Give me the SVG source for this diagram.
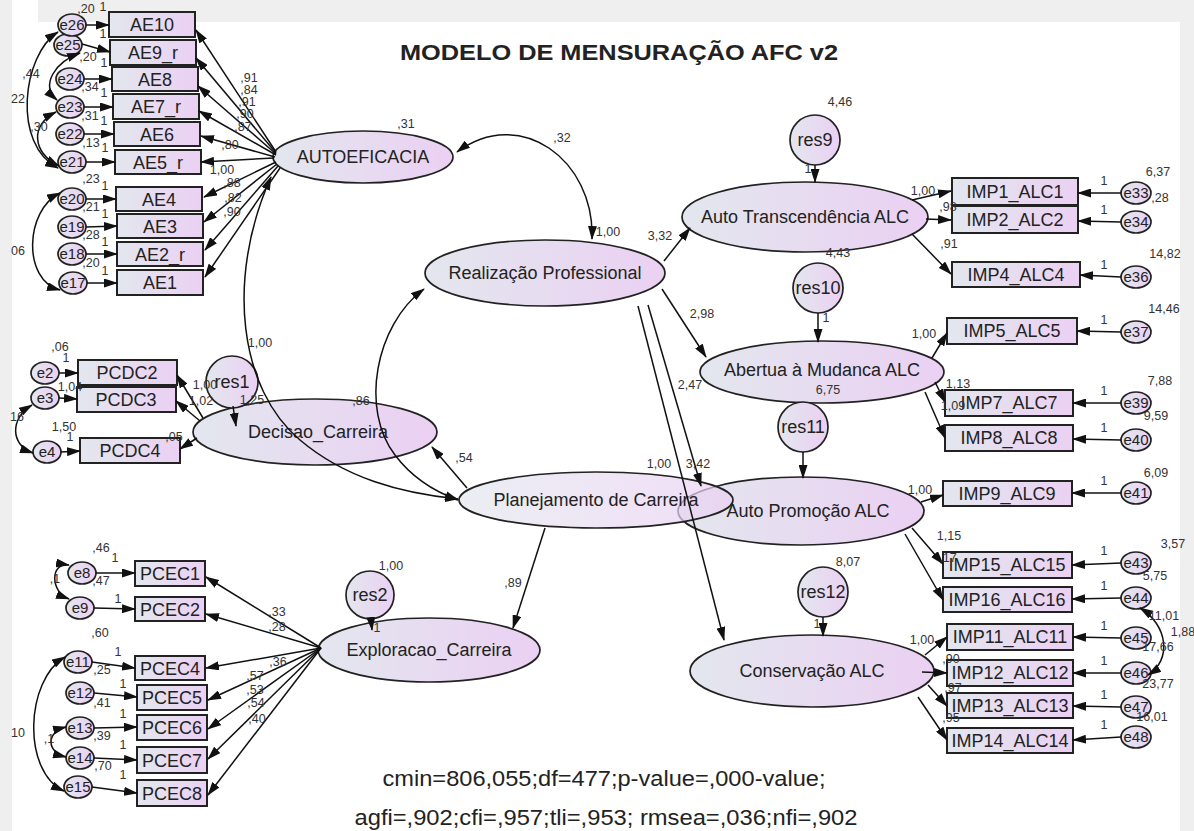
<svg xmlns="http://www.w3.org/2000/svg" width="1194" height="831" viewBox="0 0 1194 831">
<defs>
  <linearGradient id="g" x1="0" y1="0" x2="1" y2="0">
    <stop offset="0" stop-color="#e3e7ee"/>
    <stop offset="1" stop-color="#ebd0f3"/>
  </linearGradient>
  <marker id="ah" viewBox="0 0 14 9" refX="13" refY="4.5" markerWidth="14" markerHeight="9" markerUnits="userSpaceOnUse" orient="auto-start-reverse">
    <path d="M0,0 L14,4.5 L0,9 z" fill="#111"/>
  </marker>
</defs>
<style>
  .nd ellipse,.nd rect,.nd circle{fill:url(#g);stroke:#222;stroke-width:1.7}
  .nd rect{stroke-width:2}
  .nd text{font-family:"Liberation Sans",Arial,sans-serif;font-size:18px;fill:#222;text-anchor:middle}
  .nd.e text{font-size:15px}
  .nd.ov ellipse{fill-opacity:0.7}
  .cn path{fill:none;stroke:#111;stroke-width:1.5;marker-end:url(#ah)}
  .cn path.d{marker-start:url(#ah)}
  .lb text{font-family:"Liberation Sans",Arial,sans-serif;font-size:12.5px;fill:#333;text-anchor:middle}
  .hd{font-family:"Liberation Sans",Arial,sans-serif;fill:#222;text-anchor:middle}
</style>

<!-- canvas -->
<rect width="1194" height="831" fill="#ffffff"/>
<rect x="0" y="0" width="12" height="831" fill="#efefef"/>
<rect x="38" y="0" width="1156" height="22" fill="#efefef"/>
<rect x="1180" y="0" width="14" height="831" fill="#efefef"/>

<text class="hd" x="619" y="60" font-size="22" font-weight="bold" textLength="438" lengthAdjust="spacingAndGlyphs">MODELO DE MENSURAÇÃO AFC v2</text>

<!-- AUTOEFICACIA indicators -->
<g id="AE10" class="nd"><rect x="109" y="12" width="86" height="25"/><text x="152" y="31">AE10</text></g>
<g id="AE9_r" class="nd"><rect x="110" y="40" width="86" height="25"/><text x="153" y="59">AE9_r</text></g>
<g id="AE8" class="nd"><rect x="112" y="67" width="86" height="24"/><text x="155" y="86">AE8</text></g>
<g id="AE7_r" class="nd"><rect x="113" y="94" width="86" height="25"/><text x="156" y="113">AE7_r</text></g>
<g id="AE6" class="nd"><rect x="114" y="122" width="86" height="24"/><text x="157" y="141">AE6</text></g>
<g id="AE5_r" class="nd"><rect x="115" y="150" width="86" height="24"/><text x="158" y="169">AE5_r</text></g>
<g id="AE4" class="nd"><rect x="116" y="187" width="86" height="24"/><text x="159" y="206">AE4</text></g>
<g id="AE3" class="nd"><rect x="117" y="214" width="86" height="24"/><text x="160" y="233">AE3</text></g>
<g id="AE2_r" class="nd"><rect x="117" y="242" width="86" height="24"/><text x="160" y="261">AE2_r</text></g>
<g id="AE1" class="nd"><rect x="117" y="270" width="86" height="25"/><text x="160" y="289">AE1</text></g>

<g id="e25" class="nd e"><ellipse cx="68" cy="45" rx="14" ry="11"/><text x="68" y="50">e25</text></g>
<g id="e26" class="nd e"><ellipse cx="72" cy="25" rx="14" ry="11"/><text x="72" y="30">e26</text></g>
<g id="e24" class="nd e"><ellipse cx="70" cy="79" rx="14" ry="11"/><text x="70" y="84">e24</text></g>
<g id="e23" class="nd e"><ellipse cx="70" cy="107" rx="14" ry="11"/><text x="70" y="112">e23</text></g>
<g id="e22" class="nd e"><ellipse cx="70" cy="134" rx="14" ry="11"/><text x="70" y="139">e22</text></g>
<g id="e21" class="nd e"><ellipse cx="72" cy="162" rx="14" ry="11"/><text x="72" y="167">e21</text></g>
<g id="e20" class="nd e"><ellipse cx="72" cy="199" rx="14" ry="11"/><text x="72" y="204">e20</text></g>
<g id="e19" class="nd e"><ellipse cx="72" cy="227" rx="14" ry="11"/><text x="72" y="232">e19</text></g>
<g id="e18" class="nd e"><ellipse cx="72" cy="254" rx="14" ry="11"/><text x="72" y="259">e18</text></g>
<g id="e17" class="nd e"><ellipse cx="73" cy="283" rx="14" ry="11"/><text x="73" y="288">e17</text></g>

<!-- Decisao_Carreira indicators -->
<g id="PCDC2" class="nd"><rect x="78" y="360" width="99" height="25"/><text x="127" y="379">PCDC2</text></g>
<g id="PCDC3" class="nd"><rect x="77" y="387" width="99" height="25"/><text x="126" y="406">PCDC3</text></g>
<g id="PCDC4" class="nd"><rect x="80" y="438" width="100" height="25"/><text x="130" y="457">PCDC4</text></g>
<g id="e2" class="nd e"><ellipse cx="45" cy="373" rx="14" ry="11"/><text x="45" y="378">e2</text></g>
<g id="e3" class="nd e"><ellipse cx="45" cy="398" rx="14" ry="11"/><text x="45" y="403">e3</text></g>
<g id="e4" class="nd e"><ellipse cx="47" cy="452" rx="14" ry="11"/><text x="47" y="457">e4</text></g>

<!-- Exploracao_Carreira indicators -->
<g id="PCEC1" class="nd"><rect x="135" y="561" width="70" height="25"/><text x="170" y="580">PCEC1</text></g>
<g id="PCEC2" class="nd"><rect x="135" y="597" width="70" height="24"/><text x="170" y="616">PCEC2</text></g>
<g id="PCEC4" class="nd"><rect x="135" y="656" width="70" height="24"/><text x="170" y="675">PCEC4</text></g>
<g id="PCEC5" class="nd"><rect x="137" y="685" width="70" height="25"/><text x="172" y="704">PCEC5</text></g>
<g id="PCEC6" class="nd"><rect x="137" y="715" width="70" height="25"/><text x="172" y="734">PCEC6</text></g>
<g id="PCEC7" class="nd"><rect x="137" y="747" width="70" height="26"/><text x="172" y="767">PCEC7</text></g>
<g id="PCEC8" class="nd"><rect x="137" y="780" width="70" height="26"/><text x="172" y="800">PCEC8</text></g>
<g id="e8" class="nd e"><ellipse cx="82" cy="573" rx="14" ry="11"/><text x="82" y="578">e8</text></g>
<g id="e9" class="nd e"><ellipse cx="80" cy="608" rx="14" ry="11"/><text x="80" y="613">e9</text></g>
<g id="e11" class="nd e"><ellipse cx="78" cy="662" rx="14" ry="11"/><text x="78" y="667">e11</text></g>
<g id="e12" class="nd e"><ellipse cx="80" cy="693" rx="14" ry="11"/><text x="80" y="698">e12</text></g>
<g id="e13" class="nd e"><ellipse cx="80" cy="728" rx="14" ry="11"/><text x="80" y="733">e13</text></g>
<g id="e14" class="nd e"><ellipse cx="80" cy="758" rx="14" ry="11"/><text x="80" y="763">e14</text></g>
<g id="e15" class="nd e"><ellipse cx="78" cy="787" rx="14" ry="11"/><text x="78" y="792">e15</text></g>

<!-- latent variables, left and centre -->
<g id="AUTOEFICACIA" class="nd"><ellipse cx="363" cy="157" rx="90" ry="26"/><text x="363" y="163">AUTOEFICACIA</text></g>
<g id="Decisao_Carreira" class="nd"><ellipse cx="315" cy="432" rx="122" ry="33"/><text x="318" y="438">Decisao_Carreira</text></g>
<g id="res1" class="nd"><circle cx="232" cy="382" r="26"/><text x="232" y="388">res1</text></g>
<g id="Exploracao_Carreira" class="nd"><ellipse cx="429" cy="650" rx="111" ry="32"/><text x="429" y="656">Exploracao_Carreira</text></g>
<g id="res2" class="nd"><circle cx="370" cy="595" r="24"/><text x="370" y="601">res2</text></g>
<g id="Realizacao_Professional" class="nd"><ellipse cx="545" cy="273" rx="120" ry="33"/><text x="545" y="279">Realização Professional</text></g>

<!-- latent variables, right -->
<g id="res9" class="nd"><circle cx="815" cy="140" r="25"/><text x="815" y="146">res9</text></g>
<g id="Auto_Transcendencia_ALC" class="nd"><ellipse cx="805" cy="217" rx="123" ry="35"/><text x="805" y="223">Auto Transcendência ALC</text></g>
<g id="res10" class="nd"><circle cx="818" cy="288" r="25"/><text x="818" y="294">res10</text></g>
<g id="Abertua_Mudanca_ALC" class="nd"><ellipse cx="822" cy="372" rx="122" ry="31"/><text x="822" y="376">Abertua à Mudanca ALC</text></g>
<g id="res11" class="nd"><circle cx="803" cy="427" r="25"/><text x="803" y="433">res11</text></g>
<g id="Auto_Promocao_ALC" class="nd"><ellipse cx="801" cy="511" rx="123" ry="34"/><text x="808" y="517">Auto Promoção ALC</text></g>
<g id="Planejamento_de_Carreira" class="nd ov"><ellipse cx="596" cy="500" rx="137" ry="28"/><text x="596" y="506">Planejamento de Carreira</text></g>
<g id="res12" class="nd"><circle cx="823" cy="592" r="25"/><text x="823" y="598">res12</text></g>
<g id="Conservacao_ALC" class="nd"><ellipse cx="812" cy="671" rx="122" ry="36"/><text x="812" y="677">Conservação ALC</text></g>

<!-- ALC indicators -->
<g id="IMP1_ALC1" class="nd"><rect x="952" y="178" width="126" height="27"/><text x="1015" y="198">IMP1_ALC1</text></g>
<g id="IMP2_ALC2" class="nd"><rect x="952" y="206" width="126" height="27"/><text x="1015" y="226">IMP2_ALC2</text></g>
<g id="IMP4_ALC4" class="nd"><rect x="952" y="262" width="128" height="25"/><text x="1016" y="281">IMP4_ALC4</text></g>
<g id="IMP5_ALC5" class="nd"><rect x="947" y="318" width="130" height="26"/><text x="1012" y="337">IMP5_ALC5</text></g>
<g id="IMP7_ALC7" class="nd"><rect x="945" y="390" width="128" height="26"/><text x="1009" y="409">IMP7_ALC7</text></g>
<g id="IMP8_ALC8" class="nd"><rect x="945" y="425" width="128" height="26"/><text x="1009" y="444">IMP8_ALC8</text></g>
<g id="IMP9_ALC9" class="nd"><rect x="943" y="481" width="129" height="25"/><text x="1007" y="500">IMP9_ALC9</text></g>
<g id="IMP15_ALC15" class="nd"><rect x="943" y="552" width="129" height="26"/><text x="1007" y="571">IMP15_ALC15</text></g>
<g id="IMP16_ALC16" class="nd"><rect x="943" y="587" width="129" height="25"/><text x="1007" y="606">IMP16_ALC16</text></g>
<g id="IMP11_ALC11" class="nd"><rect x="947" y="624" width="126" height="26"/><text x="1010" y="643">IMP11_ALC11</text></g>
<g id="IMP12_ALC12" class="nd"><rect x="947" y="660" width="126" height="26"/><text x="1010" y="679">IMP12_ALC12</text></g>
<g id="IMP13_ALC13" class="nd"><rect x="947" y="693" width="126" height="25"/><text x="1010" y="712">IMP13_ALC13</text></g>
<g id="IMP14_ALC14" class="nd"><rect x="947" y="728" width="126" height="25"/><text x="1010" y="747">IMP14_ALC14</text></g>

<g id="e33" class="nd e"><ellipse cx="1136" cy="193" rx="15" ry="11"/><text x="1136" y="198">e33</text></g>
<g id="e34" class="nd e"><ellipse cx="1136" cy="222" rx="15" ry="11"/><text x="1136" y="227">e34</text></g>
<g id="e36" class="nd e"><ellipse cx="1136" cy="277" rx="15" ry="11"/><text x="1136" y="282">e36</text></g>
<g id="e37" class="nd e"><ellipse cx="1136" cy="332" rx="15" ry="11"/><text x="1136" y="337">e37</text></g>
<g id="e39" class="nd e"><ellipse cx="1136" cy="403" rx="15" ry="11"/><text x="1136" y="408">e39</text></g>
<g id="e40" class="nd e"><ellipse cx="1136" cy="440" rx="15" ry="11"/><text x="1136" y="445">e40</text></g>
<g id="e41" class="nd e"><ellipse cx="1136" cy="493" rx="15" ry="11"/><text x="1136" y="498">e41</text></g>
<g id="e43" class="nd e"><ellipse cx="1136" cy="563" rx="15" ry="11"/><text x="1136" y="568">e43</text></g>
<g id="e44" class="nd e"><ellipse cx="1136" cy="598" rx="15" ry="11"/><text x="1136" y="603">e44</text></g>
<g id="e45" class="nd e"><ellipse cx="1136" cy="638" rx="15" ry="11"/><text x="1136" y="643">e45</text></g>
<g id="e46" class="nd e"><ellipse cx="1136" cy="673" rx="15" ry="11"/><text x="1136" y="678">e46</text></g>
<g id="e47" class="nd e"><ellipse cx="1136" cy="707" rx="15" ry="11"/><text x="1136" y="712">e47</text></g>
<g id="e48" class="nd e"><ellipse cx="1136" cy="737" rx="15" ry="11"/><text x="1136" y="742">e48</text></g>

<!-- paths and covariances -->
<g id="connectors" class="cn">
  <!-- errors to AE items -->
  <path d="M86,25 L109,25"/>
  <path d="M82,44 L110,52"/>
  <path d="M84,79 L112,79"/>
  <path d="M84,107 L113,107"/>
  <path d="M84,134 L114,134"/>
  <path d="M86,162 L115,162"/>
  <path d="M86,199 L116,199"/>
  <path d="M86,227 L117,226"/>
  <path d="M86,254 L117,254"/>
  <path d="M87,283 L117,283"/>
  <!-- AUTOEFICACIA loadings -->
  <path d="M276,152 L196,30"/>
  <path d="M276,153 L196,58"/>
  <path d="M276,154 L198,86"/>
  <path d="M276,155 L199,111"/>
  <path d="M275,157 L201,136"/>
  <path d="M274,158 L201,162"/>
  <path d="M276,162 L204,197"/>
  <path d="M277,164 L204,222"/>
  <path d="M278,166 L205,250"/>
  <path d="M280,168 L205,277"/>
  <!-- AE error covariances -->
  <path class="d" d="M58,32 C 22,55 12,145 58,168"/>
  <path class="d" d="M80,53 C 55,62 40,85 57,100"/>
  <path class="d" d="M56,112 C 30,125 32,152 59,166"/>
  <path class="d" d="M60,193 C 25,210 22,280 60,290"/>
  <!-- Decisao_Carreira block -->
  <path d="M59,373 L78,373"/>
  <path d="M59,398 L77,399"/>
  <path d="M61,452 L80,451"/>
  <path d="M203,418 L177,375"/>
  <path d="M200,421 L176,401"/>
  <path d="M197,438 L180,449"/>
  <path d="M233,406 L236,426"/>
  <path class="d" d="M32,405 C 10,418 10,445 33,453"/>
  <!-- Exploracao_Carreira block -->
  <path d="M96,573 L135,573"/>
  <path d="M94,608 L135,609"/>
  <path d="M92,662 L135,668"/>
  <path d="M94,693 L137,697"/>
  <path d="M94,728 L137,727"/>
  <path d="M94,758 L137,760"/>
  <path d="M92,787 L137,793"/>
  <path d="M321,648 L206,577"/>
  <path d="M321,648 L206,614"/>
  <path d="M321,648 L206,668"/>
  <path d="M321,648 L208,700"/>
  <path d="M321,648 L208,729"/>
  <path d="M321,648 L208,759"/>
  <path d="M321,648 L208,795"/>
  <path class="d" d="M69,565 C 50,562 50,592 69,599"/>
  <path class="d" d="M66,727 C 46,732 46,752 66,757"/>
  <path class="d" d="M65,657 C 25,680 22,772 64,791"/>
  <path d="M371,619 L372,630"/>
  <!-- structural part -->
  <path d="M467,488 L432,447"/>
  <path d="M545,528 L513,628"/>
  <path class="d" d="M457,152 C 520,105 595,160 592,239"/>
  <path class="d" d="M271,177 C 225,280 240,390 300,440 C 345,478 400,493 458,499"/>
  <path class="d" d="M424,289 C 375,325 360,410 395,455 C 410,475 430,490 458,500"/>
  <path d="M664,261 L690,228"/>
  <path d="M662,289 L706,357"/>
  <path d="M648,305 L701,486"/>
  <path d="M638,306 L724,640"/>
  <path d="M815,165 L815,182"/>
  <path d="M818,313 L818,342"/>
  <path d="M803,452 L803,478"/>
  <path d="M823,617 L823,636"/>
  <!-- ALC loadings -->
  <path d="M912,200 L951,191"/>
  <path d="M926,219 L951,220"/>
  <path d="M912,234 L951,274"/>
  <path d="M932,358 L947,333"/>
  <path d="M935,382 L945,402"/>
  <path d="M925,392 L945,438"/>
  <path d="M921,502 L943,495"/>
  <path d="M912,528 L943,564"/>
  <path d="M905,534 L943,600"/>
  <path d="M925,655 L947,637"/>
  <path d="M922,672 L947,673"/>
  <path d="M928,685 L947,706"/>
  <path d="M918,697 L947,740"/>
  <!-- ALC errors -->
  <path d="M1121,193 L1078,193"/>
  <path d="M1121,222 L1078,221"/>
  <path d="M1121,277 L1080,275"/>
  <path d="M1121,332 L1077,331"/>
  <path d="M1121,403 L1073,403"/>
  <path d="M1121,440 L1073,439"/>
  <path d="M1121,493 L1072,493"/>
  <path d="M1121,563 L1072,565"/>
  <path d="M1121,598 L1072,599"/>
  <path d="M1121,638 L1073,637"/>
  <path d="M1121,673 L1073,673"/>
  <path d="M1121,707 L1073,706"/>
  <path d="M1121,737 L1073,740"/>
  <path class="d" d="M1140,608 C 1168,625 1172,660 1148,675"/>
</g>

<!-- estimates -->
<g id="estimates" class="lb">
  <!-- AE errors -->
  <text x="86" y="13">,20</text><text x="103" y="11">1</text>
  <text x="103" y="38">1</text>
  <text x="88" y="61">,20</text><text x="104" y="67">1</text>
  <text x="90" y="91">,34</text><text x="104" y="97">1</text>
  <text x="90" y="120">,31</text><text x="104" y="125">1</text>
  <text x="91" y="147">,13</text><text x="105" y="152">1</text>
  <text x="91" y="183">,23</text><text x="105" y="190">1</text>
  <text x="91" y="211">,21</text><text x="105" y="218">1</text>
  <text x="91" y="239">,28</text><text x="105" y="246">1</text>
  <text x="91" y="267">,20</text><text x="105" y="275">1</text>
  <text x="31" y="78">,44</text>
  <text x="18" y="103">22</text>
  <text x="39" y="131">,30</text>
  <text x="18" y="255">06</text>
  <!-- AE loadings -->
  <text x="249" y="82">,91</text>
  <text x="249" y="94">,84</text>
  <text x="247" y="106">,91</text>
  <text x="245" y="118">,90</text>
  <text x="243" y="131">,87</text>
  <text x="230" y="149">,80</text>
  <text x="222" y="174">1,00</text>
  <text x="232" y="187">,88</text>
  <text x="233" y="202">,82</text>
  <text x="232" y="216">,90</text>
  <text x="406" y="128">,31</text>
  <!-- Decisao block -->
  <text x="60" y="351">,06</text><text x="66" y="362">1</text>
  <text x="70" y="391">1,04</text>
  <text x="64" y="431">1,50</text><text x="70" y="441">1</text>
  <text x="17" y="421">16</text>
  <text x="174" y="441">,05</text>
  <text x="205" y="389">1,00</text>
  <text x="201" y="405">1,02</text>
  <text x="252" y="404">1,25</text>
  <text x="260" y="347">1,00</text>
  <text x="361" y="405">,86</text>
  <text x="464" y="462">,54</text>
  <text x="513" y="587">,89</text>
  <!-- Exploracao block -->
  <text x="101" y="552">,46</text><text x="115" y="562">1</text>
  <text x="55" y="583">,1</text>
  <text x="101" y="585">,47</text>
  <text x="118" y="603">1</text>
  <text x="100" y="637">,60</text><text x="118" y="656">1</text>
  <text x="102" y="674">,25</text><text x="123" y="688">1</text>
  <text x="102" y="707">,41</text><text x="123" y="718">1</text>
  <text x="102" y="740">,39</text><text x="123" y="749">1</text>
  <text x="103" y="770">,70</text><text x="123" y="779">1</text>
  <text x="18" y="737">10</text>
  <text x="49" y="743">,1</text>
  <text x="277" y="616">,33</text>
  <text x="277" y="631">,28</text>
  <text x="278" y="666">,36</text>
  <text x="255" y="680">,57</text>
  <text x="255" y="694">,53</text>
  <text x="256" y="707">,54</text>
  <text x="257" y="723">,40</text>
  <text x="391" y="570">1,00</text>
  <text x="377" y="632">1</text>
  <!-- structural -->
  <text x="562" y="142">,32</text>
  <text x="608" y="236">1,00</text>
  <text x="660" y="240">3,32</text>
  <text x="702" y="318">2,98</text>
  <text x="690" y="389">2,47</text>
  <text x="659" y="468">1,00</text>
  <text x="698" y="468">3,42</text>
  <text x="840" y="106">4,46</text>
  <text x="808" y="173">1</text>
  <text x="838" y="257">4,43</text>
  <text x="826" y="322">1</text>
  <text x="828" y="394">6,75</text>
  <text x="848" y="566">8,07</text>
  <text x="817" y="628">1</text>
  <!-- ALC loadings -->
  <text x="923" y="195">1,00</text>
  <text x="948" y="211">,98</text>
  <text x="949" y="248">,91</text>
  <text x="924" y="338">1,00</text>
  <text x="958" y="388">1,13</text>
  <text x="953" y="410">1,09</text>
  <text x="920" y="494">1,00</text>
  <text x="949" y="540">1,15</text>
  <text x="948" y="562">,17</text>
  <text x="922" y="644">1,00</text>
  <text x="951" y="663">,90</text>
  <text x="953" y="692">,97</text>
  <text x="951" y="722">,95</text>
  <!-- ALC errors -->
  <text x="1104" y="185">1</text><text x="1158" y="176">6,37</text>
  <text x="1104" y="214">1</text><text x="1160" y="202">,28</text>
  <text x="1104" y="269">1</text><text x="1165" y="258">14,82</text>
  <text x="1104" y="324">1</text><text x="1164" y="313">14,46</text>
  <text x="1104" y="395">1</text><text x="1160" y="385">7,88</text>
  <text x="1104" y="432">1</text><text x="1156" y="420">9,59</text>
  <text x="1104" y="485">1</text><text x="1156" y="477">6,09</text>
  <text x="1104" y="555">1</text><text x="1173" y="548">3,57</text>
  <text x="1104" y="590">1</text><text x="1155" y="580">5,75</text>
  <text x="1104" y="630">1</text><text x="1164" y="620">11,01</text>
  <text x="1104" y="665">1</text><text x="1158" y="651">17,66</text>
  <text x="1104" y="699">1</text><text x="1158" y="688">23,77</text>
  <text x="1104" y="729">1</text><text x="1152" y="721">16,01</text>
  <text x="1183" y="636">1,88</text>
</g>

<!-- fit summary -->
<text class="hd" x="604" y="786" font-size="22" textLength="443" lengthAdjust="spacingAndGlyphs">cmin=806,055;df=477;p-value=,000-value;</text>
<text class="hd" x="606" y="825" font-size="22" textLength="503" lengthAdjust="spacingAndGlyphs">agfi=,902;cfi=,957;tli=,953; rmsea=,036;nfi=,902</text>
</svg>
